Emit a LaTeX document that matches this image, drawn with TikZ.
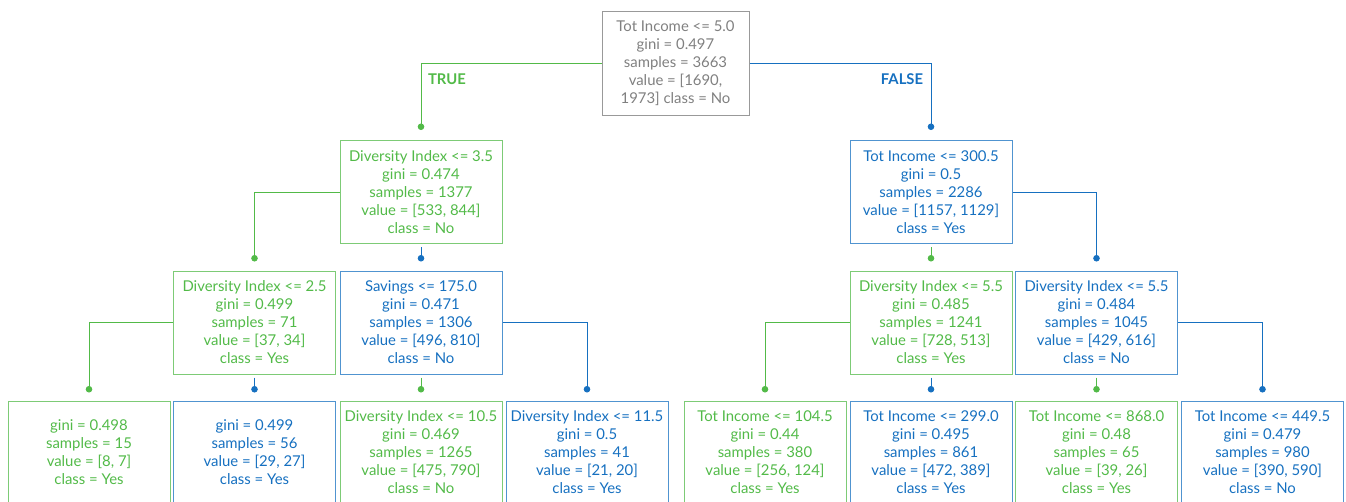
\documentclass[tikz,border=0pt]{standalone}
\usepackage{fontspec}
\setmainfont{Lato}
\usepackage{xcolor}
\usetikzlibrary{arrows.meta}

\definecolor{treegreen}{RGB}{82,186,72}
\definecolor{treeblue}{RGB}{22,112,192}
\definecolor{treegray}{RGB}{128,128,128}

\tikzset{
  treebox/.style={rectangle, draw, line width=1pt, align=center,
                  minimum width=162pt, minimum height=103pt, inner sep=0pt,
                  font=\fontsize{14.9}{18}\selectfont},
  greenbox/.style={treebox, draw=treegreen!75, text=treegreen},
  bluebox/.style={treebox, draw=treeblue!75, text=treeblue},
  greenlink/.style={draw=treegreen, line width=1pt, -{Circle[length=6.5pt]}},
  bluelink/.style={draw=treeblue, line width=1pt, -{Circle[length=6.5pt]}},
  branchlabel/.style={font=\fontsize{14.8}{16}\bfseries\selectfont}
}

\begin{document}
\begin{tikzpicture}[x=1pt,y=-1pt]
\useasboundingbox (0,0) rectangle (1346,501);

% root
\node[treebox, draw=treegray!80, text=treegray, minimum width=147pt, minimum height=104pt]
  (root) at (675.5,63)
  {Tot Income <= 5.0\\gini = 0.497\\samples = 3663\\value = [1690,\\1973] class = No};

% first split
\node[greenbox] (divA) at (421,192)
  {Diversity Index <= 3.5\\gini = 0.474\\samples = 1377\\value = [533, 844]\\class = No};
\node[bluebox] (incA) at (931,192)
  {Tot Income <= 300.5\\gini = 0.5\\samples = 2286\\value = [1157, 1129]\\class = Yes};

% second level
\node[greenbox] (divB) at (254.5,322.5)
  {Diversity Index <= 2.5\\gini = 0.499\\samples = 71\\value = [37, 34]\\class = Yes};
\node[bluebox] (savA) at (421,322.5)
  {Savings <= 175.0\\gini = 0.471\\samples = 1306\\value = [496, 810]\\class = No};
\node[greenbox] (divC) at (931,322.5)
  {Diversity Index <= 5.5\\gini = 0.485\\samples = 1241\\value = [728, 513]\\class = Yes};
\node[bluebox] (divD) at (1096.5,322.5)
  {Diversity Index <= 5.5\\gini = 0.484\\samples = 1045\\value = [429, 616]\\class = No};

% leaves
\node[greenbox] (leafA) at (89,452.5)
  {gini = 0.498\\samples = 15\\value = [8, 7]\\class = Yes};
\node[bluebox] (leafB) at (254.5,452.5)
  {gini = 0.499\\samples = 56\\value = [29, 27]\\class = Yes};
\node[greenbox] (divE) at (421,452.5)
  {Diversity Index <= 10.5\\gini = 0.469\\samples = 1265\\value = [475, 790]\\class = No};
\node[bluebox] (divF) at (587,452.5)
  {Diversity Index <= 11.5\\gini = 0.5\\samples = 41\\value = [21, 20]\\class = Yes};
\node[greenbox] (incB) at (765,452.5)
  {Tot Income <= 104.5\\gini = 0.44\\samples = 380\\value = [256, 124]\\class = Yes};
\node[bluebox] (incC) at (931,452.5)
  {Tot Income <= 299.0\\gini = 0.495\\samples = 861\\value = [472, 389]\\class = Yes};
\node[greenbox] (incD) at (1096.5,452.5)
  {Tot Income <= 868.0\\gini = 0.48\\samples = 65\\value = [39, 26]\\class = Yes};
\node[bluebox] (incE) at (1262.5,452.5)
  {Tot Income <= 449.5\\gini = 0.479\\samples = 980\\value = [390, 590]\\class = No};

% branch labels
\node[branchlabel, text=treegreen] (truelabel) at (447,79) {TRUE};
\node[branchlabel, text=treeblue] (falselabel) at (902,79) {FALSE};

% connectors
\draw[greenlink] (root.west) -| ([yshift=10pt]divA.north);
\draw[bluelink] (root.east) -| ([yshift=10pt]incA.north);

\draw[greenlink] (divA.west) -| ([yshift=9pt]divB.north);
\draw[bluelink] ([yshift=-3pt]divA.south) -- ([yshift=9pt]savA.north);
\draw[greenlink] ([yshift=-3pt]incA.south) -- ([yshift=9pt]divC.north);
\draw[bluelink] (incA.east) -| ([yshift=9pt]divD.north);

\draw[greenlink] (divB.west) -| ([yshift=8pt]leafA.north);
\draw[bluelink] ([yshift=-3pt]divB.south) -- ([yshift=8pt]leafB.north);
\draw[greenlink] ([yshift=-3pt]savA.south) -- ([yshift=8pt]divE.north);
\draw[bluelink] (savA.east) -| ([yshift=8pt]divF.north);
\draw[greenlink] (divC.west) -| ([yshift=8pt]incB.north);
\draw[bluelink] ([yshift=-3pt]divC.south) -- ([yshift=8pt]incC.north);
\draw[greenlink] ([yshift=-3pt]divD.south) -- ([yshift=8pt]incD.north);
\draw[bluelink] (divD.east) -| ([yshift=8pt]incE.north);
\end{tikzpicture}
\end{document}
